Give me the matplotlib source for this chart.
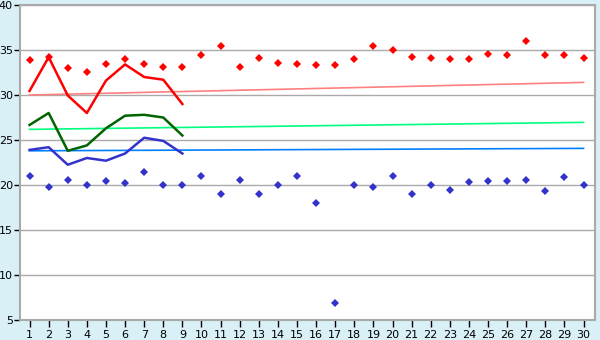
import numpy as np
import matplotlib
matplotlib.use("Agg")
import matplotlib.pyplot as plt

days = np.arange(1, 31)

# points for each of the 30 days
hi_pts = [33.9, 34.2, 33.0, 32.6, 33.5, 34.0, 33.5, 33.1, 33.1, 34.5,
          35.5, 33.1, 34.1, 33.6, 33.5, 33.3, 33.3, 34.0, 35.4, 35.0,
          34.2, 34.1, 34.0, 34.0, 34.6, 34.4, 36.0, 34.5, 34.4, 34.1]
lo_pts = [21.0, 19.75, 20.6, 20.0, 20.5, 20.2, 21.5, 20.0, 20.0, 21.05,
          19.0, 20.6, 19.0, 20.0, 21.0, 18.0, 6.9, 20.0, 19.75, 21.0,
          19.0, 20.0, 19.4, 20.3, 20.5, 20.5, 20.6, 19.3, 20.85, 20.0]

# lines for the first 9 days
line_days = days[:9]
hi_line = [30.45, 34.2, 29.95, 28.0, 31.6, 33.4, 32.0, 31.7, 29.0]
mid_line = [26.67, 28.0, 23.8, 24.4, 26.3, 27.7, 27.8, 27.5, 25.5]
lo_line = [23.9, 24.2, 22.25, 23.0, 22.7, 23.5, 25.25, 24.9, 23.5]

# straight reference lines (start, end)
ref_days = [1, 30]
hi_ref = [30.0, 31.4]
mid_ref = [26.18, 26.96]
lo_ref = [23.8, 24.07]

bg = "#d9f0f7"
fig = plt.figure(figsize=(6, 3.4), dpi=100, facecolor=bg)
ax = fig.add_axes([20 / 600, 1 - 320 / 340, 575 / 600, 315 / 340])
ax.set_facecolor("white")

ax.plot(ref_days, hi_ref, color="#ff8080", lw=1.2)
ax.plot(ref_days, mid_ref, color="#00ff80", lw=1.2)
ax.plot(ref_days, lo_ref, color="#0080ff", lw=1.2)

ax.plot(line_days, hi_line, color="#ff0000", lw=1.8)
ax.plot(line_days, mid_line, color="#006400", lw=1.8)
ax.plot(line_days, lo_line, color="#3333cc", lw=1.8)

ax.plot(days, hi_pts, ls="none", marker="D", ms=4.5, color="#ff0000", mew=0)
ax.plot(days, lo_pts, ls="none", marker="D", ms=4.5, color="#3333cc", mew=0)

ax.set_xlim(0.5, 30.6)
ax.set_ylim(5, 40)
ax.set_xticks(days)
ax.set_yticks(range(5, 41, 5))
ax.yaxis.grid(True, color="#aaaaaa", lw=1)
ax.set_axisbelow(True)
for s in ax.spines.values():
    s.set_color("#aaaaaa")
    s.set_linewidth(1.5)
ax.tick_params(axis="x", length=5, width=1, color="black", labelsize=8, pad=2)
ax.tick_params(axis="y", length=4, width=1, color="black", labelsize=8, pad=1)

fig.savefig("out.png", dpi=100, facecolor=bg)
